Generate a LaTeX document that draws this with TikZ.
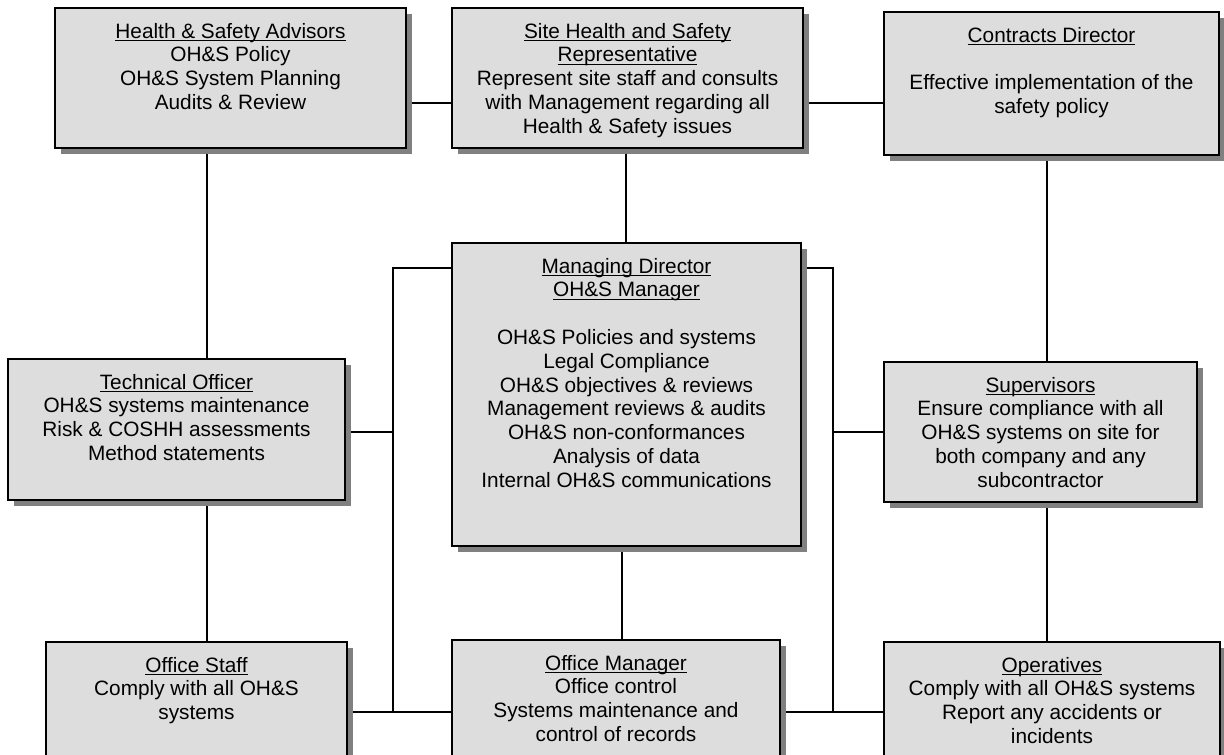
\documentclass[tikz,border=0pt]{standalone}
\usepackage{fontspec}
\setmainfont{Liberation Sans}
\usetikzlibrary{shadows}
\pgfdeclarelayer{background}
\pgfsetlayers{background,main}
\definecolor{boxfill}{HTML}{DDDDDD}
\definecolor{shadowgray}{HTML}{808080}
\newsavebox\ulbox
\newcommand\ulx[1]{\leavevmode\sbox\ulbox{#1}\rlap{\rule[-3.2pt]{\wd\ulbox}{1.4pt}}\usebox\ulbox}
\newcommand\bxt[3]{\parbox[c][#2pt][t]{#1pt}{\centering\fontsize{20.8}{23.8}\selectfont\vspace*{15pt}#3\par}}
\tikzset{
  orgbox/.style={draw=black, line width=2pt, fill=boxfill, inner sep=0pt,
    drop shadow={shadow xshift=6pt, shadow yshift=-6pt, fill=shadowgray, opacity=1}},
  conn/.style={draw=black, line width=1.4pt}
}
\begin{document}
\begin{tikzpicture}[x=1pt,y=-1pt]
\useasboundingbox (0,0) rectangle (1224,755);
\clip (0,0) rectangle (1224,755);

\node[orgbox] (hsa) at (230.5,78) {\bxt{351}{140}{\ulx{Health \& Safety Advisors}\\OH\&S Policy\\OH\&S System Planning\\Audits \& Review}};
\node[orgbox] (site) at (627.5,78) {\bxt{351}{140}{\ulx{Site Health and Safety}\\\ulx{Representative}\\Represent site staff and consults\\with Management regarding all\\Health \& Safety issues}};
\node[orgbox] (con) at (1051.5,83.5) {\bxt{335}{143}{\ulx{Contracts Director}\\[23.8pt]Effective implementation of the\\safety policy}};
\node[orgbox] (md) at (626.5,394.5) {\bxt{349}{303}{\ulx{Managing Director}\\\ulx{OH\&S Manager}\\[23.8pt]OH\&S Policies and systems\\Legal Compliance\\OH\&S objectives \& reviews\\Management reviews \& audits\\OH\&S non-conformances\\Analysis of data\\Internal OH\&S communications}};
\node[orgbox] (tech) at (176.5,429.5) {\bxt{337}{141}{\ulx{Technical Officer}\\OH\&S systems maintenance\\Risk \& COSHH assessments\\Method statements}};
\node[orgbox] (sup) at (1040.5,432) {\bxt{313}{140}{\ulx{Supervisors}\\Ensure compliance with all\\OH\&S systems on site for\\both company and any\\subcontractor}};
\node[orgbox] (staff) at (196.5,707) {\bxt{301}{130}{\ulx{Office Staff}\\Comply with all OH\&S\\systems}};
\node[orgbox] (om) at (616,706) {\bxt{328}{132}{\ulx{Office Manager}\\Office control\\Systems maintenance and\\control of records}};
\node[orgbox] (ops) at (1052,707) {\bxt{336}{130}{\ulx{Operatives}\\Comply with all OH\&S systems\\Report any accidents or\\incidents}};

\coordinate (r0) at (0,103);
\coordinate (r1) at (0,268);
\coordinate (r2) at (0,432);
\coordinate (r3) at (0,712);
\coordinate (lx) at (207,0);
\coordinate (mt) at (626,0);
\coordinate (mb) at (622,0);
\coordinate (rx) at (1047,0);
\coordinate (L) at (393,0);
\coordinate (R) at (833,0);

\begin{pgfonlayer}{background}
\draw[conn] (hsa.east |- r0) -- (site.west |- r0);
\draw[conn] (site.east |- r0) -- (con.west |- r0);
\draw[conn] (hsa.south -| lx) -- (tech.north -| lx);
\draw[conn] (tech.south -| lx) -- (staff.north -| lx);
\draw[conn] (site.south -| mt) -- (md.north -| mt);
\draw[conn] (md.south -| mb) -- (om.north -| mb);
\draw[conn] (con.south -| rx) -- (sup.north -| rx);
\draw[conn] (sup.south -| rx) -- (ops.north -| rx);
\draw[conn] (md.west |- r1) -| (L |- r3);
\draw[conn] (tech.east |- r2) -- (L |- r2);
\draw[conn] (staff.east |- r3) -- (om.west |- r3);
\draw[conn] (md.east |- r1) -| (R |- r3);
\draw[conn] (sup.west |- r2) -- (R |- r2);
\draw[conn] (om.east |- r3) -- (ops.west |- r3);
\end{pgfonlayer}
\end{tikzpicture}
\end{document}
